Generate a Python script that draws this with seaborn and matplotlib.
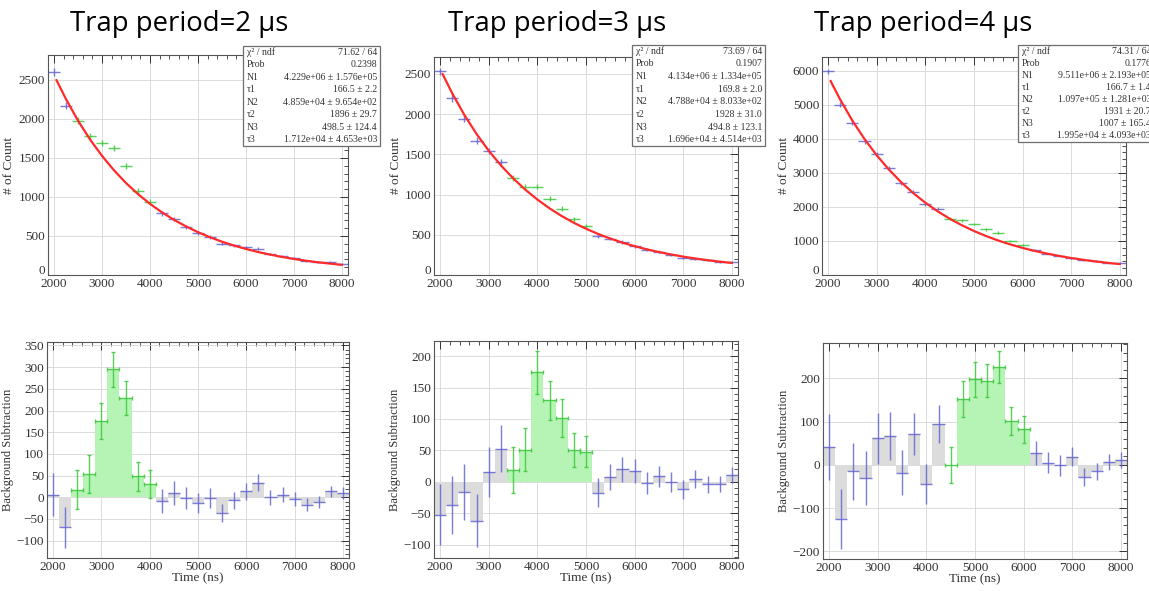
import numpy as np
import matplotlib
matplotlib.use("Agg")
import matplotlib.pyplot as plt
import matplotlib.transforms as mtransforms
import seaborn as sns
from matplotlib.ticker import MultipleLocator, AutoMinorLocator
from matplotlib.patches import Rectangle

# ---------------- data ----------------
time_ns = [2000, 2250, 2500, 2750, 3000, 3250, 3500, 3750, 4000, 4250, 4500, 4750, 5000,
           5250, 5500, 5750, 6000, 6250, 6500, 6750, 7000, 7250, 7500, 7750, 8000]
fit_time_ns = [2050, 2250, 2500, 2750, 3000, 3250, 3500, 3750, 4000, 4250, 4500, 4750, 5000,
               5250, 5500, 5750, 6000, 6250, 6500, 6750, 7000, 7250, 7500, 7750, 8000]

titles = ["Trap period=2 μs", "Trap period=3 μs", "Trap period=4 μs"]
signal_start = [2500, 3500, 4500]
signal_end = [4000, 5000, 6000]

counts_2us = [2600, 2170, 1980, 1780, 1690, 1625, 1400, 1075, 940, 790, 715, 620, 540,
              490, 400, 380, 355, 335, 270, 245, 215, 180, 170, 170, 145]
counts_3us = [2530, 2200, 1940, 1670, 1540, 1400, 1210, 1100, 1100, 950, 825, 690, 615,
              485, 450, 410, 360, 315, 290, 250, 215, 200, 185, 165, 160]
counts_4us = [5980, 5000, 4470, 3920, 3550, 3140, 2700, 2450, 2070, 1950, 1650, 1610, 1500,
              1340, 1245, 1000, 890, 730, 630, 570, 500, 440, 410, 360, 350]

fit_2us = [2500, 2254, 1979, 1738, 1527, 1342, 1179, 1037, 912, 803, 707, 623, 549,
           484, 427, 377, 334, 295, 262, 232, 206, 183, 163, 146, 130]
fit_3us = [2500, 2258, 1989, 1753, 1545, 1363, 1203, 1062, 938, 829, 733, 649, 575,
           510, 453, 402, 358, 319, 285, 255, 228, 205, 184, 166, 150]
fit_4us = [5700, 5148, 4531, 3990, 3514, 3096, 2728, 2406, 2122, 1872, 1653, 1461, 1291,
           1142, 1011, 896, 795, 706, 628, 559, 498, 445, 398, 356, 320]

bkgsub_2us = [6, -69, 17, 54, 176, 295, 229, 48, 31, -9, 10, -2, -13,
              -1, -36, -7, 14, 34, 0, 6, -4, -17, -11, 14, 10]
bkgsub_3us = [-52, -37, -16, -62, 16, 53, 19, 51, 174, 130, 102, 51, 48,
              -17, 8, 20, 17, -2, 9, 0, -12, 5, -4, -3, 11]
bkgsub_4us = [41, -125, -15, -31, 62, 67, -18, 71, -45, 95, 0, 152, 198,
              195, 227, 101, 82, 27, 5, -1, 19, -28, -15, 6, 11]

err_2us = [50, 47, 45, 43, 42, 41, 39, 34, 32, 28, 27, 25, 24, 23, 21, 20, 20, 19, 17, 17, 16, 15, 14, 13, 13]
err_3us = [49, 46, 44, 42, 40, 38, 36, 34, 34, 31, 30, 27, 25, 23, 21, 20, 19, 18, 17, 16, 15, 14, 13, 13, 12]
err_4us = [77, 70, 66, 62, 59, 56, 52, 49, 46, 44, 42, 41, 40, 38, 37, 32, 31, 27, 25, 24, 22, 21, 20, 19, 19]

stat_names = ["χ² / ndf", "Prob", "N1", "τ1", "N2", "τ2", "N3", "τ3"]
stats_2us = ["71.62 / 64", "0.2398", "4.229e+06 ± 1.576e+05", "166.5 ± 2.2",
             "4.859e+04 ± 9.654e+02", "1896 ± 29.7", "498.5 ± 124.4", "1.712e+04 ± 4.653e+03"]
stats_3us = ["73.69 / 64", "0.1907", "4.134e+06 ± 1.334e+05", "169.8 ± 2.0",
             "4.788e+04 ± 8.033e+02", "1928 ± 31.0", "494.8 ± 123.1", "1.696e+04 ± 4.514e+03"]
stats_4us = ["74.31 / 64", "0.1776", "9.511e+06 ± 2.193e+05", "166.7 ± 1.4",
             "1.097e+05 ± 1.281e+03", "1931 ± 20.7", "1007 ± 165.4", "1.995e+04 ± 4.093e+03"]

# ---------------- style ----------------
sns.set_theme(style="white")
plt.rcParams['font.family'] = ['Liberation Serif', 'DejaVu Serif']
plt.rcParams['mathtext.fontset'] = 'stix'

W, H = 1149, 591
fig = plt.figure(figsize=(W / 100, H / 100), dpi=100)


def px_axes(l, t, r, b):
    return fig.add_axes([l / W, 1 - b / H, (r - l) / W, (b - t) / H])


top_boxes = [(48, 55, 348, 275), (434, 57, 738, 275), (822, 57, 1126, 275)]
bot_boxes = [(47, 342, 349, 558), (434, 341, 738, 558), (823, 343, 1127, 559)]
top_ylims = [(0, 2820), (0, 2710), (0, 6400)]
top_major = [500, 500, 1000]
bot_ylims = [(-140, 358), (-121, 224), (-218, 282)]
bot_major = [50, 50, 100]
stat_boxes = [(243, 46, 380, 146), (632, 45, 765, 146), (1018, 45, 1162, 142)]
title_x = [179, 557, 923]

counts_all = [counts_2us, counts_3us, counts_4us]
fit_all = [fit_2us, fit_3us, fit_4us]
bkg_all = [bkgsub_2us, bkgsub_3us, bkgsub_4us]
err_all = [err_2us, err_3us, err_4us]
stats_all = [stats_2us, stats_3us, stats_4us]

BLUE = '#6464d2'
GREEN = '#3cc83c'
GREEN_FILL = '#b6f4b6'
GRAY_FILL = '#dcdcdc'
t = np.array(time_ns)


def style_axes(ax, ylim, major):
    ax.set_xlim(1875, 8125)
    ax.set_ylim(*ylim)
    ax.xaxis.set_major_locator(MultipleLocator(1000))
    ax.xaxis.set_minor_locator(AutoMinorLocator(5))
    ax.yaxis.set_major_locator(MultipleLocator(major))
    ax.yaxis.set_minor_locator(AutoMinorLocator(5))
    ax.tick_params(which='both', direction='in', top=True, right=True,
                   labelsize=9.5, colors='#333333', pad=2)
    ax.tick_params(which='major', length=6, width=0.7)
    ax.tick_params(which='minor', length=3, width=0.6)
    ax.grid(True, which='major', color='#d6d6d6', lw=0.6)
    ax.set_axisbelow(True)
    for s in ax.spines.values():
        s.set_color('#555555')
        s.set_linewidth(0.8)


lift = mtransforms.ScaledTranslation(0, 4 / 72, fig.dpi_scale_trans)

for i in range(3):
    counts = np.array(counts_all[i])
    fitv = fit_all[i]
    bkg = np.array(bkg_all[i])
    err = np.array(err_all[i])
    sig = (t >= signal_start[i]) & (t <= signal_end[i])

    # ----- top panel -----
    ax = px_axes(*top_boxes[i])
    style_axes(ax, top_ylims[i], top_major[i])
    ax.errorbar(t[~sig], counts[~sig], xerr=125, yerr=err[~sig], fmt='none',
                ecolor=BLUE, elinewidth=1.0, alpha=0.85, zorder=3)
    ax.errorbar(t[sig], counts[sig], xerr=125, yerr=err[sig], fmt='none',
                ecolor=GREEN, elinewidth=1.0, alpha=0.85, zorder=3)
    sns.lineplot(x=fit_time_ns, y=fitv, color='#ff2a2a', lw=1.6, ax=ax, zorder=4)
    ax.set_xlabel('')
    ax.set_ylabel('# of Count', fontsize=9.5, color='#333333')
    ax.yaxis.set_label_coords(-0.11 if i == 0 else -0.105, 0.5)
    # lift the "0" label a little above the x-tick labels (as in ROOT output)
    ytk = ax.yaxis.get_major_ticks()
    for tk, loc in zip(ytk, ax.yaxis.get_majorticklocs()):
        if loc == 0:
            tk.label1.set_transform(tk.label1.get_transform() + lift)

    # ----- bottom panel -----
    bx = px_axes(*bot_boxes[i])
    style_axes(bx, bot_ylims[i], bot_major[i])
    bx.bar(t[~sig], bkg[~sig], width=250, color=GRAY_FILL, edgecolor='none', zorder=2)
    bx.bar(t[sig], bkg[sig], width=250, color=GREEN_FILL, edgecolor='none', zorder=2)
    bx.errorbar(t[~sig], bkg[~sig], xerr=125, yerr=err[~sig], fmt='none',
                ecolor=BLUE, elinewidth=1.0, alpha=0.85, zorder=3)
    bx.errorbar(t[sig], bkg[sig], xerr=125, yerr=err[sig], fmt='none',
                ecolor=GREEN, elinewidth=1.0, capsize=1.5, alpha=0.85, zorder=3)
    bx.set_xlabel('Time (ns)', fontsize=9.5, color='#333333')
    bx.xaxis.set_label_coords(0.5, -0.065)
    bx.set_ylabel('Background Subtraction', fontsize=9, color='#333333')
    bx.yaxis.set_label_coords(-0.108, 0.5)

    # ----- title -----
    fig.text(title_x[i] / W, 1 - 31 / H, titles[i], ha='center', va='baseline',
             fontsize=19.8, family=['Open Sans', 'DejaVu Sans'], color='black')

    # ----- stat box -----
    l, tp, r, b = stat_boxes[i]
    fig.add_artist(Rectangle((l / W, 1 - b / H), (r - l) / W, (b - tp) / H,
                             transform=fig.transFigure, facecolor='white',
                             edgecolor='#6e6e6e', lw=0.9, zorder=10))
    rh = (b - tp) / 8
    for k in range(8):
        yc = 1 - (tp + (k + 0.5) * rh) / H
        fig.text((l + 4) / W, yc, stat_names[k], ha='left', va='center',
                 fontsize=7, color='#333333', zorder=11)
        fig.text(min(r - 3, 1151) / W, yc, stats_all[i][k], ha='right', va='center',
                 fontsize=7, color='#333333', zorder=11)

fig.savefig('out.png', dpi=100)
